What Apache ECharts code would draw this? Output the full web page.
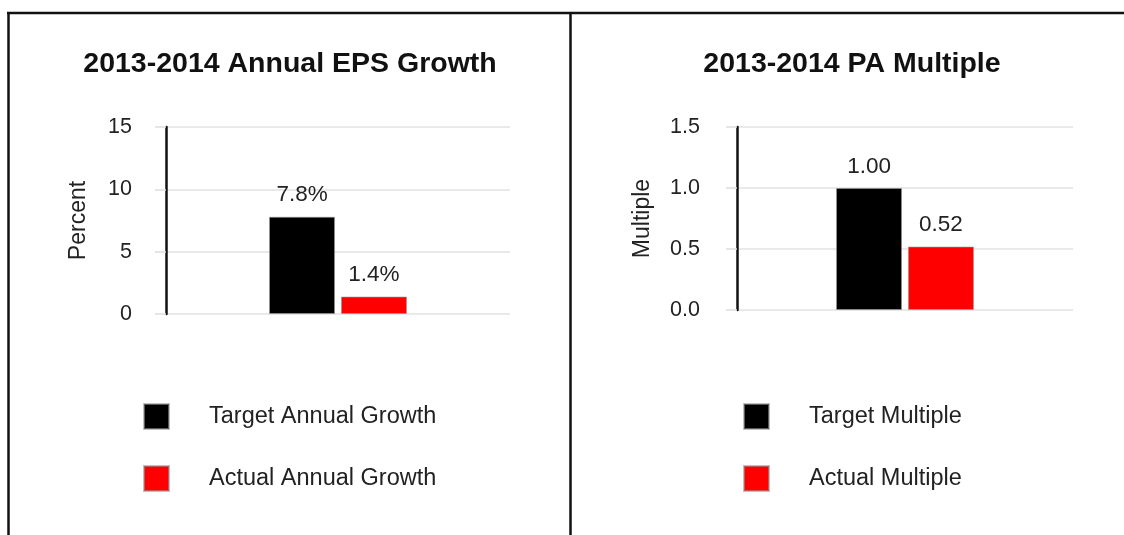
<!DOCTYPE html>
<html>
<head>
<meta charset="utf-8">
<script src="https://cdn.jsdelivr.net/npm/echarts@6/dist/echarts.min.js"></script>
<style>
html,body{margin:0;padding:0;background:#fff;}
#main{width:1124px;height:535px;}
</style>
</head>
<body>
<div id="main"></div>
<script>
// ---- data ----
const categories = ['2013-2014'];
const epsTitle = '2013-2014 Annual EPS Growth';
const paTitle = '2013-2014 PA Multiple';
const epsNames = ['Target Annual Growth', 'Actual Annual Growth'];
const paNames = ['Target Multiple', 'Actual Multiple'];
const epsTarget = [7.8];
const epsActual = [1.4];
const paTarget = [1.00];
const paActual = [0.52];
const epsAxisName = 'Percent';
const paAxisName = 'Multiple';
const epsTicks = [0, 5, 10, 15];
const paTicks = [0.0, 0.5, 1.0, 1.5];

const FONT = '"Liberation Sans", Arial, sans-serif';
const TXT = '#222';

const chart = echarts.init(document.getElementById('main'), null, {renderer: 'canvas'});

function yAxis(gridIndex, name, ticks, nameGap, margin, decimals) {
  return {
    type: 'value', gridIndex: gridIndex,
    min: ticks[0], max: ticks[ticks.length - 1], interval: ticks[1] - ticks[0],
    name: name, nameLocation: 'middle', nameGap: nameGap,
    nameTextStyle: {fontFamily: FONT, fontSize: 23, color: TXT},
    axisLine: {show: true, lineStyle: {color: '#111', width: 2.5}},
    axisTick: {show: true, length: 11, lineStyle: {color: '#ddd', width: 1.5}},
    axisLabel: {fontFamily: FONT, fontSize: 21.5, color: TXT, margin: margin,
      formatter: v => decimals ? v.toFixed(decimals) : String(v)},
    splitLine: {show: true, lineStyle: {color: '#e2e2e2', width: 1.5}}
  };
}
function xAxis(gridIndex) {
  return {
    type: 'category', gridIndex: gridIndex, data: categories,
    axisLine: {show: false}, axisTick: {show: false}, axisLabel: {show: false}
  };
}
function bar(name, data, idx, color, fmt) {
  return {
    type: 'bar', name: name, data: data, xAxisIndex: idx, yAxisIndex: idx,
    barWidth: 66, barGap: '9%',
    itemStyle: {color: color, borderColor: 'rgba(150,150,150,0.6)', borderWidth: 1},
    label: {show: true, position: 'top', distance: 10, fontFamily: FONT, fontSize: 22.5,
      color: TXT, formatter: p => fmt(p.value)}
  };
}
const epsFmt = v => v.toFixed(1) + '%';
const paFmt = v => v.toFixed(2);

const legendCommon = {
  orient: 'vertical', icon: 'rect', itemWidth: 25, itemHeight: 25, itemGap: 35,
  padding: 0, selectedMode: false,
  textStyle: {fontFamily: FONT, fontSize: 23.5, color: TXT, padding: [0, 0, 0, 35]}
};

chart.setOption({
  animation: false,
  backgroundColor: '#fff',
  title: [
    {text: epsTitle, left: 285, top: 45, textAlign: 'center',
      textStyle: {fontFamily: FONT, fontSize: 28.5, fontWeight: 'bold', color: '#111'}},
    {text: paTitle, left: 847, top: 45, textAlign: 'center',
      textStyle: {fontFamily: FONT, fontSize: 28.5, fontWeight: 'bold', color: '#111'}}
  ],
  legend: [
    Object.assign({}, legendCommon, {left: 143, top: 403, data: epsNames}),
    Object.assign({}, legendCommon, {left: 743, top: 403, data: paNames})
  ],
  grid: [
    {left: 166, right: 614, top: 127, bottom: 221},
    {left: 737, right: 51, top: 127, bottom: 225}
  ],
  xAxis: [xAxis(0), xAxis(1)],
  yAxis: [yAxis(0, epsAxisName, epsTicks, 76, 34, 0), yAxis(1, paAxisName, paTicks, 83, 37, 1)],
  series: [
    bar(epsNames[0], epsTarget, 0, '#000000', epsFmt),
    bar(epsNames[1], epsActual, 0, '#ff0000', epsFmt),
    bar(paNames[0], paTarget, 1, '#000000', paFmt),
    bar(paNames[1], paActual, 1, '#ff0000', paFmt)
  ],
  graphic: [
    {type: 'line', shape: {x1: 7, y1: 13, x2: 1124, y2: 13}, style: {stroke: '#111', lineWidth: 2.5}},
    {type: 'line', shape: {x1: 8.5, y1: 12, x2: 8.5, y2: 535}, style: {stroke: '#111', lineWidth: 2.5}},
    {type: 'line', shape: {x1: 570.5, y1: 12, x2: 570.5, y2: 535}, style: {stroke: '#111', lineWidth: 2.5}}
  ]
});
</script>
</body>
</html>
